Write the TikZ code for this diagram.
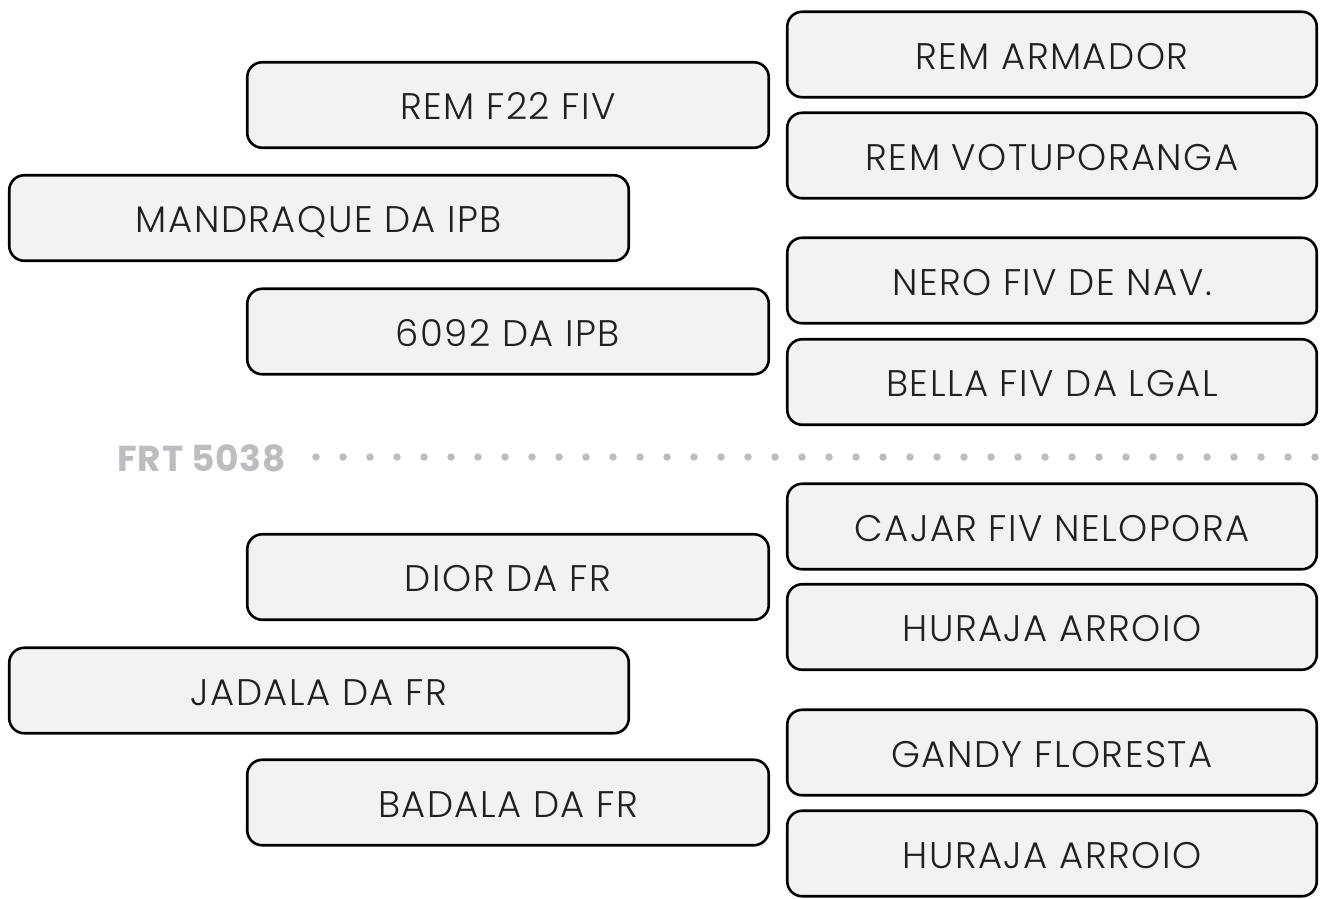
\documentclass[tikz,border=0pt]{standalone}
\usepackage{fontspec}
\setmainfont{Poppins Light}[LetterSpace=4]
\newfontfamily\labfont{Poppins Bold}[LetterSpace=2]
\definecolor{boxfill}{HTML}{F1F2F4}
\definecolor{boxtext}{HTML}{231F20}
\definecolor{labgray}{HTML}{BCBDC1}
\tikzset{
  box/.style={draw=black, line width=2.6pt, fill=boxfill, rounded corners=15pt,
    minimum height=85.5pt, inner sep=0pt, text=boxtext,
    text height=29pt, text depth=0pt,
    font=\fontsize{37}{42}\selectfont},
  lbox/.style={box, minimum width=521.5pt},
  xbox/.style={box, minimum width=619.5pt},
  rbox/.style={box, minimum width=529.5pt},
  dotline/.style={draw=labgray, line width=7.5pt, line cap=round, dash pattern=on 0pt off 27pt}
}
\begin{document}
\begin{tikzpicture}[x=1pt,y=-1pt]
\useasboundingbox[fill=white] (0,0) rectangle (1321,898);
% right column
\node[rbox] (a) at (1052,54.5) {REM ARMADOR};
\node[rbox] (b) at (1052,155.5) {REM VOTUPORANGA};
\node[rbox] (c) at (1052,280.5) {NERO FIV DE NAV.};
\node[rbox] (d) at (1052,382) {BELLA FIV DA LGAL};
\node[rbox] (e) at (1052,526.5) {CAJAR FIV NELOPORA};
\node[rbox] (f) at (1052,627) {HURAJA ARROIO};
\node[rbox] (g) at (1052,752.5) {GANDY FLORESTA};
\node[rbox] (h) at (1052,853.5) {HURAJA ARROIO};
% left column
\node[lbox] (l1) at (508,105) {REM F22 FIV};
\node[xbox] (l2) at (319,218) {MANDRAQUE DA IPB};
\node[lbox] (l3) at (508,331.5) {6092 DA IPB};
\node[lbox] (l4) at (508,577) {DIOR DA FR};
\node[xbox] (l5) at (319,690.5) {JADALA DA FR};
\node[lbox] (l6) at (508,802.5) {BADALA DA FR};
% separator
\node[anchor=east, inner sep=0pt, text=labgray, font=\labfont\fontsize{36}{40}\selectfont] (frt) at (286,458) {FRT 5038};
\coordinate (ds) at (316,457);
\coordinate (de) at (1316,457);
\draw[dotline] (ds) -- (de);
\end{tikzpicture}
\end{document}
